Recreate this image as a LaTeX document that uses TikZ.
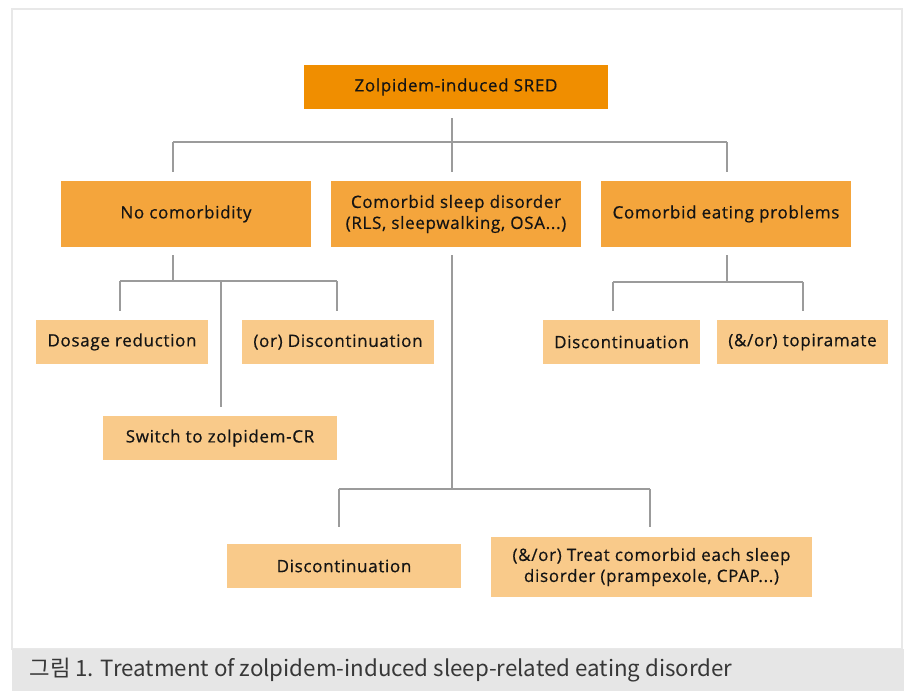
\documentclass[tikz,border=0pt]{standalone}
\usepackage{fontspec}
\setmainfont{Open Sans}[LetterSpace=4,FakeBold=0.6]
\newfontfamily\krfont{Noto Sans CJK KR}
\definecolor{topc}{RGB}{240,142,0}
\definecolor{midc}{RGB}{244,165,60}
\definecolor{lowc}{RGB}{249,202,138}
\definecolor{linec}{RGB}{155,155,155}
\definecolor{framec}{RGB}{232,232,232}
\definecolor{bandc}{RGB}{230,230,230}
\definecolor{txtc}{RGB}{20,20,20}
\tikzset{
  box/.style={rectangle, inner sep=0pt, align=center, text=txtc,
    font=\fontsize{17}{21}\selectfont},
  topbox/.style={box, fill=topc, minimum width=304pt, minimum height=44pt},
  midbox/.style={box, fill=midc, minimum width=250pt, minimum height=66pt},
  lowbox/.style={box, fill=lowc, minimum height=44pt},
  conn/.style={draw=linec, line width=1.2pt},
}
\begin{document}
\begin{tikzpicture}[x=1pt,y=-1pt]
\useasboundingbox (0,0) rectangle (904,691);
\fill[white] (0,0) rectangle (904,691);
\draw[framec, line width=2pt] (12,9) rectangle (902,649);
\fill[bandc] (12,649) rectangle (904,691);
\node[anchor=west, text=txtc!85, font=\krfont\fontsize{22.3}{26}\selectfont] (cap) at (26,670) {그림 1. Treatment of zolpidem-induced sleep-related eating disorder};

% boxes
\node[topbox] (top) at (456,87) {Zolpidem-induced SRED};
\node[midbox] (nc) at (186,214) {No comorbidity};
\node[midbox] (cs) at (456,214) {Comorbid sleep disorder\\(RLS, sleepwalking, OSA...)};
\node[midbox] (ce) at (726,214) {Comorbid eating problems};
\node[lowbox, minimum width=172pt] (dr) at (122,342) {Dosage reduction};
\node[lowbox, minimum width=192pt] (od) at (338,342) {(or) Discontinuation};
\node[lowbox, minimum width=234pt] (sw) at (220,438) {Switch to zolpidem-CR};
\node[lowbox, minimum width=157pt] (d2) at (621.5,342) {Discontinuation};
\node[lowbox, minimum width=171pt] (tp) at (802.5,342) {(\&/or) topiramate};
\node[lowbox, minimum width=234pt] (d3) at (344,566) {Discontinuation};
\node[lowbox, minimum width=321pt, minimum height=60pt] (tr) at (651.5,567) {(\&/or) Treat comorbid each sleep\\disorder (prampexole, CPAP...)};

% level 1 connectors
\coordinate (j0) at (452,142);
\coordinate (jL) at (173,142);
\coordinate (jR) at (727,142);
\draw[conn, shorten >=9pt] (top.south -| j0) ++(0,9) -- (j0) -- (j0 |- cs.north);
\draw[conn] (jL) -- (jR);
\draw[conn, shorten >=9pt] (jL) -- (jL |- nc.north);
\draw[conn, shorten >=9pt] (jR) -- (jR |- ce.north);

% no comorbidity
\coordinate (k0) at (173,281);
\coordinate (kL) at (120,281);
\coordinate (kM) at (221,281);
\coordinate (kR) at (337,281);
\draw[conn] (nc.south -| k0) ++(0,8) -- (k0);
\draw[conn] (kL) -- (kR);
\draw[conn, shorten >=9pt] (kL) -- (kL |- dr.north);
\draw[conn, shorten >=9pt] (kR) -- (kR |- od.north);
\draw[conn, shorten >=9pt] (kM) -- (kM |- sw.north);

% comorbid eating
\coordinate (m0) at (727,282);
\coordinate (mL) at (613,282);
\coordinate (mR) at (803,282);
\draw[conn] (ce.south -| m0) ++(0,8) -- (m0);
\draw[conn] (mL) -- (mR);
\draw[conn, shorten >=9pt] (mL) -- (mL |- d2.north);
\draw[conn, shorten >=9pt] (mR) -- (mR |- tp.north);

% comorbid sleep
\coordinate (n0) at (452,489);
\coordinate (nL) at (339,489);
\coordinate (nR) at (650,489);
\draw[conn] (cs.south -| n0) ++(0,8) -- (n0);
\draw[conn] (nL) -- (nR);
\draw[conn, shorten >=17pt] (nL) -- (nL |- d3.north);
\draw[conn, shorten >=10pt] (nR) -- (nR |- tr.north);
\end{tikzpicture}
\end{document}
